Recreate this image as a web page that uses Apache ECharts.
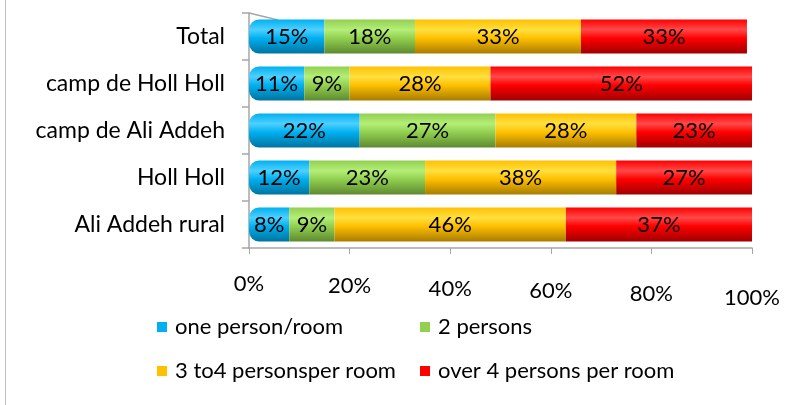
<!DOCTYPE html>
<html>
<head>
<meta charset="utf-8">
<script src="https://cdn.jsdelivr.net/npm/echarts@6/dist/echarts.min.js"></script>
<style>
  html, body { margin: 0; padding: 0; background: #ffffff; }
  #chart { width: 801px; height: 405px; }
</style>
</head>
<body>
<div id="chart"></div>
<script>
// Household crowding by site (share of households, %)
const categories = ['Total', 'camp de Holl Holl', 'camp de Ali Addeh', 'Holl Holl', 'Ali Addeh rural'];
const seriesNames = ['one person/room', '2 persons', '3 to4 personsper room', 'over 4 persons per room'];
const onePerson = [15, 11, 22, 12, 8];
const twoPersons = [18, 9, 27, 23, 9];
const threeToFour = [33, 28, 28, 38, 46];
const overFour = [33, 52, 23, 27, 37];
const xTicks = [0, 20, 40, 60, 80, 100];

const values = [onePerson, twoPersons, threeToFour, overFour];
const baseColors = ['#00B0F0', '#92D050', '#FFC000', '#FF0000'];
// cylinder shading: light top, base colour, dark bottom
const shades = [
  ['#4FD0FF', '#00B0F0', '#0074A0'],
  ['#B4EE78', '#92D050', '#5E8A30'],
  ['#FFE040', '#FFC000', '#A87C00'],
  ['#FF4A4A', '#FF0000', '#A00000']
];
const FONT = 'Lato';

function grad(s) {
  return new echarts.graphic.LinearGradient(0, 0, 0, 1, [
    { offset: 0, color: s[1] },
    { offset: 0.3, color: s[0] },
    { offset: 0.55, color: s[1] },
    { offset: 1, color: s[2] }
  ]);
}

const series = seriesNames.map((name, i) => ({
  name: name,
  type: 'bar',
  stack: 'share',
  barWidth: 34,
  data: values[i],
  itemStyle: {
    color: grad(shades[i]),
    borderRadius: i === 0 ? [10, 0, 0, 10] : 0
  },
  label: {
    show: true,
    position: 'inside',
    formatter: '{c}%',
    color: '#000',
    fontFamily: FONT,
    fontSize: 22
  },
  emphasis: { disabled: true }
}));

// perspective drop of the tick labels along the floor edge
const rich = {};
xTicks.forEach((t, k) => {
  rich['s' + k] = { padding: [[0, 2, 5, 7, 10, 14][k], 0, 0, 0], fontFamily: FONT, fontSize: 22, color: '#000' };
});

const legendText = { fontFamily: FONT, fontSize: 22, color: '#000', padding: [0, 0, 0, 3] };

const chart = echarts.init(document.getElementById('chart'), null, { renderer: 'canvas' });
chart.setOption({
  animation: false,
  backgroundColor: '#ffffff',
  textStyle: { fontFamily: FONT },
  grid: { left: 249, right: 49, top: 13, bottom: 157 },
  legend: [
    {
      data: [
        { name: seriesNames[0], itemStyle: { color: baseColors[0] } },
        { name: seriesNames[2], itemStyle: { color: baseColors[2] } }
      ],
      orient: 'vertical',
      left: 152,
      top: 311,
      itemWidth: 10,
      itemHeight: 10,
      itemGap: 22,
      icon: 'rect',
      textStyle: legendText
    },
    {
      data: [
        { name: seriesNames[1], itemStyle: { color: baseColors[1] } },
        { name: seriesNames[3], itemStyle: { color: baseColors[3] } }
      ],
      orient: 'vertical',
      left: 415,
      top: 311,
      itemWidth: 10,
      itemHeight: 10,
      itemGap: 22,
      icon: 'rect',
      textStyle: legendText
    }
  ],
  xAxis: {
    type: 'value',
    min: 0,
    max: 100,
    interval: 20,
    axisLine: { show: true, lineStyle: { color: '#A6A6A6', width: 1.5 } },
    axisTick: { show: true, length: 6, lineStyle: { color: '#A6A6A6' } },
    splitLine: { show: false },
    axisLabel: {
      margin: 25,
      formatter: v => '{s' + xTicks.indexOf(v) + '|' + v + '%}',
      rich: rich,
      fontFamily: FONT,
      fontSize: 22,
      color: '#000'
    }
  },
  yAxis: {
    type: 'category',
    inverse: true,
    data: categories,
    axisLine: { show: true, lineStyle: { color: '#A6A6A6', width: 1.5 } },
    axisTick: { show: true, length: 7, lineStyle: { color: '#A6A6A6', width: 1.5 } },
    axisLabel: { margin: 24, fontFamily: FONT, fontSize: 23, color: '#000' }
  },
  graphic: [
    { type: 'line', shape: { x1: 5.5, y1: 0, x2: 5.5, y2: 405 }, style: { stroke: '#BFBFBF', lineWidth: 1 } },
    { type: 'line', shape: { x1: 249, y1: 13, x2: 278, y2: 20 }, style: { stroke: '#A6A6A6', lineWidth: 1.5 } }
  ],
  series: series
});
</script>
</body>
</html>
